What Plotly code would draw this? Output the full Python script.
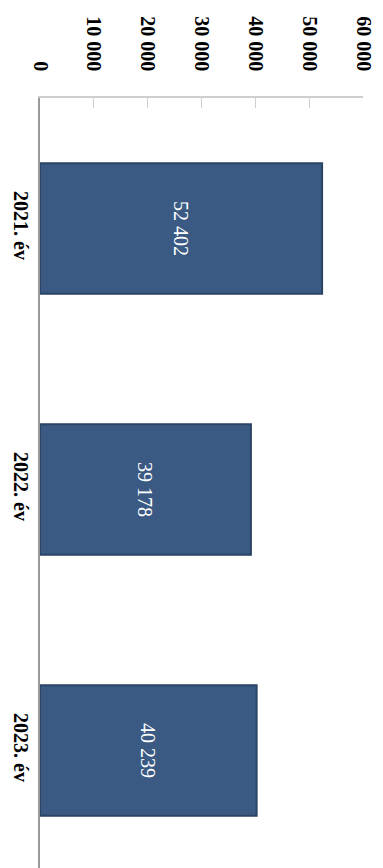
import plotly.graph_objects as go

categories = ["2021. év", "2022. év", "2023. év"]
values = [52402, 39178, 40239]
tick_values = [0, 10000, 20000, 30000, 40000, 50000, 60000]

serif = "Liberation Serif"

fig = go.Figure()
fig.add_trace(go.Bar(
    y=categories,
    x=values,
    orientation="h",
    marker=dict(color="#3a5a84", line=dict(color="#2b4364", width=2)),
    text=values,
    texttemplate="%{x:,d}",
    textposition="inside",
    insidetextanchor="middle",
    textangle=90,
    constraintext="none",
    textfont=dict(family=serif, size=20, color="white"),
    width=0.5,
))

fig.update_layout(
    width=383,
    height=868,
    margin=dict(l=32, r=28, t=90, b=8, autoexpand=False),
    paper_bgcolor="white",
    plot_bgcolor="white",
    separators=", ",
    showlegend=False,
    font=dict(family=serif),
    xaxis=dict(
        side="top",
        range=[0, 60000],
        tickvals=tick_values,
        tickformat=",d",
        tickangle=90,
        showgrid=False,
        zeroline=False,
        showline=True,
        linecolor="#cfcfcf",
        linewidth=1.5,
        ticks="inside",
        ticklen=10,
        tickcolor="#cfcfcf",
        ticklabelstandoff=18,
        automargin=False,
        tickfont=dict(family=serif, size=20, color="black", weight="bold"),
        fixedrange=True,
    ),
    yaxis=dict(
        range=[2.45, -0.5],
        tickangle=90,
        showgrid=False,
        zeroline=False,
        showline=True,
        linecolor="#9a9a9a",
        linewidth=1.5,
        ticks="",
        automargin=False,
        tickfont=dict(family=serif, size=20, color="black", weight="bold"),
        fixedrange=True,
    ),
)

fig.write_html("out.html")
